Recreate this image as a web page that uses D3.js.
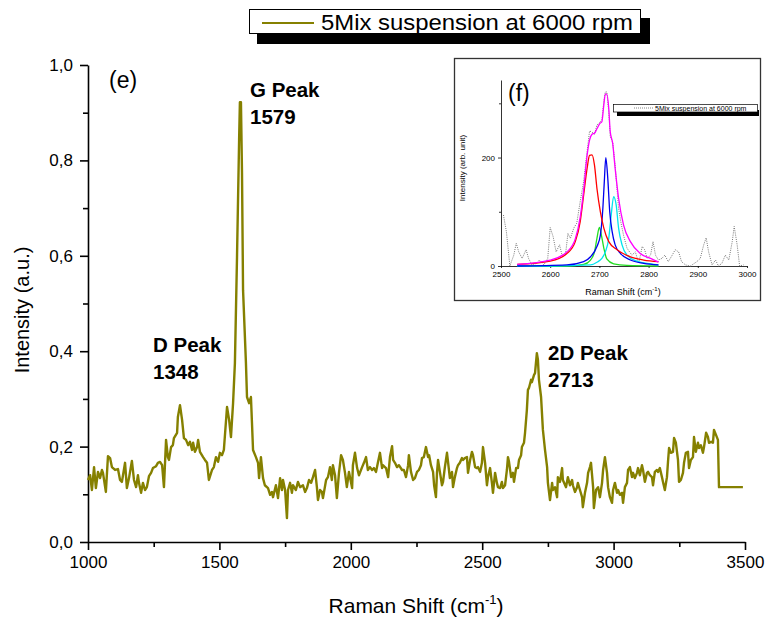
<!DOCTYPE html>
<html><head><meta charset="utf-8">
<script src="https://cdn.jsdelivr.net/npm/d3@7"></script>
<style>body{margin:0;background:#fff} svg{display:block} text{font-family:"Liberation Sans",Arial,sans-serif}</style>
</head><body>
<svg id="c" width="771" height="622"></svg>
<script>
// ---------- data ----------
const seriesName = "5Mix suspension at 6000 rpm";
const xTicks = [1000, 1500, 2000, 2500, 3000, 3500];
const xMinorTicks = [1250, 1750, 2250, 2750, 3250];
const yTicks = [0, 0.2, 0.4, 0.6, 0.8, 1.0];
const yMinorTicks = [0.1, 0.3, 0.5, 0.7, 0.9];
const peakLabels = [
  {name: "D Peak", pos: "1348"},
  {name: "G Peak", pos: "1579"},
  {name: "2D Peak", pos: "2713"}
];
// [Raman shift (cm-1), intensity (a.u.)]
const spectrum = [[1000,.130],[1008,.140],[1015,.109],[1023,.157],[1030,.113],[1038,.147],[1046,.134],[1053,.151],[1057,.145],[1068,.105],[1076,.180],[1084,.176],[1091,.157],[1103,.151],[1114,.153],[1122,.130],[1129,.126],[1141,.166],[1148,.113],[1156,.134],[1167,.170],[1175,.130],[1183,.115],[1190,.140],[1194,.124],[1202,.103],[1209,.124],[1217,.109],[1224,.115],[1232,.138],[1240,.145],[1247,.155],[1259,.159],[1266,.166],[1274,.168],[1282,.161],[1289,.115],[1297,.214],[1304,.178],[1308,.172],[1316,.199],[1323,.203],[1327,.218],[1339,.229],[1342,.262],[1350,.287],[1358,.256],[1365,.218],[1373,.214],[1381,.203],[1388,.210],[1396,.193],[1400,.208],[1407,.189],[1415,.199],[1419,.214],[1426,.189],[1438,.178],[1445,.172],[1453,.166],[1460,.130],[1472,.151],[1479,.157],[1487,.178],[1495,.168],[1502,.187],[1510,.182],[1517,.193],[1529,.283],[1537,.256],[1544,.220],[1552,.291],[1559,.375],[1567,.597],[1575,.843],[1578,.922],[1582,.922],[1586,.774],[1590,.528],[1601,.375],[1605,.304],[1613,.291],[1620,.304],[1624,.249],[1628,.193],[1639,.178],[1647,.166],[1651,.134],[1658,.178],[1666,.134],[1673,.119],[1685,.113],[1693,.099],[1700,.105],[1704,.094],[1715,.119],[1723,.092],[1731,.134],[1738,.109],[1742,.130],[1750,.109],[1757,.050],[1761,.109],[1769,.124],[1776,.103],[1780,.119],[1791,.109],[1799,.126],
[1807,.115],[1818,.119],[1826,.105],[1833,.113],[1841,.130],[1849,.124],[1856,.136],[1864,.151],[1871,.115],[1875,.088],[1883,.109],[1890,.105],[1894,.092],[1906,.130],[1913,.136],[1921,.157],[1928,.130],[1932,.161],[1940,.140],[1947,.092],[1955,.145],[1963,.182],[1970,.172],[1978,.145],[1985,.115],[1993,.147],[2005,.113],[2008,.161],[2016,.187],[2024,.155],[2031,.140],[2043,.157],[2050,.166],[2058,.178],[2065,.151],[2073,.157],[2081,.151],[2088,.155],[2096,.147],[2103,.166],[2111,.187],[2119,.155],[2122,.161],[2134,.155],[2142,.136],[2149,.178],[2157,.201],[2161,.172],[2168,.166],[2176,.157],[2183,.161],[2195,.151],[2202,.151],[2210,.136],[2218,.161],[2221,.182],[2229,.147],[2237,.130],[2244,.134],[2252,.147],[2259,.151],
[2267,.161],[2271,.176],[2278,.178],[2286,.199],[2294,.178],[2298,.182],[2305,.161],[2313,.147],[2317,.119],[2324,.094],[2328,.145],[2332,.172],[2339,.147],[2347,.119],[2351,.126],[2358,.157],[2366,.187],[2370,.168],[2377,.134],[2385,.147],[2389,.115],[2396,.136],[2404,.155],[2408,.161],[2415,.166],[2423,.176],[2427,.172],[2434,.176],[2442,.178],[2446,.145],[2454,.172],[2461,.189],[2465,.182],[2473,.157],[2480,.155],[2484,.157],[2492,.147],[2499,.166],[2503,.199],[2511,.166],[2518,.119],[2522,.136],[2530,.155],[2537,.124],[2541,.103],[2549,.145],[2556,.124],[2560,.115],[2568,.113],[2575,.126],[2579,.113],[2587,.119],[2594,.151],[2598,.178],[2602,.168],[2610,.136],[2617,.145],[2621,.126],[2629,.155],[2636,.155],[2640,.172],[2648,.182],[2651,.199],[2659,.208],[2663,.229],[2670,.277],[2674,.319],[2678,.323],[2686,.340],[2689,.335],[2697,.350],[2701,.354],[2708,.396],[2712,.382],[2716,.340],[2724,.304],[2731,.235],[2739,.193],[2747,.157],[2750,.124],[2758,.088],[2766,.124],[2769,.109],[2777,.115],[2785,.094],[2788,.136],[2796,.126],[2804,.155],[2807,.130],[2819,.115],[2826,.136],[2834,.119],[2842,.130],[2845,.119],[2853,.105],[2861,.115],[2864,.124],[2872,.109],[2880,.094],[2883,.073],[2891,.103],[2899,.124],[2903,.145],[2910,.157],[2914,.166],[2922,.115],[2925,.071],[2933,.109],[2941,.115],[2948,.094],[2956,.124],[2960,.151],[2967,.178],[2975,.145],[2979,.115],[2986,.094],[2994,.082],[2998,.109],[3005,.124],[3013,.103],[3017,.109],[3024,.099],[3032,.103],[3036,.082],[3043,.115],[3051,.124],[3055,.151],[3062,.157],[3070,.136],[3074,.145],[3081,.134],[3089,.145],[3093,.155],[3100,.140],[3108,.161],[3112,.151],[3119,.126],[3127,.145],[3131,.147],[3138,.140],[3146,.136],[3150,.119],[3157,.147],[3165,.151],[3169,.147],[3176,.155],[3184,.136],[3188,.126],[3195,.109],[3203,.136],[3207,.168],[3211,.197],[3218,.187],[3226,.189],[3230,.218],[3237,.208],[3245,.172],[3249,.126],[3256,.130],[3264,.145],[3268,.166],[3275,.187],[3283,.189],[3287,.155],[3294,.172],[3302,.178],[3306,.220],[3313,.189],[3321,.208],[3325,.197],[3332,.203],[3340,.187],[3344,.199],[3352,.229],[3359,.220],[3363,.208],[3371,.210],[3378,.208],[3382,.235],[3390,.224],[3397,.214],[3401,.115],[3492,.115]];

// inset (f): 2D band fit, [Raman shift, intensity (arb. unit)]
const insetXTicks = [2500, 2600, 2700, 2800, 2900, 3000];
const insetYTicks = [0, 200];
const insetYMinorTicks = [100, 300];
const insetRaw = [[2505,94],[2511,63],[2518,0],[2526,20],[2531,42],[2536,26],[2543,14],[2551,30],[2556,14],[2563,2],[2573,5],[2578,11],[2587,2],[2595,14],[2600,71],[2606,54],[2612,26],[2619,39],[2624,20],[2631,20],[2636,60],[2641,51],[2648,70],[2654,79],[2661,119],[2668,156],[2675,211],[2680,249],[2685,247],[2690,243],[2695,260],[2701,265],[2705,270],[2709,303],[2712,321],[2715,321],[2719,285],[2722,239],[2727,228],[2732,186],[2739,106],[2744,79],[2749,57],[2756,33],[2766,20],[2773,26],[2780,5],[2787,36],[2792,30],[2797,14],[2804,20],[2809,45],[2814,20],[2820,11],[2827,14],[2833,20],[2840,8],[2848,20],[2854,30],[2861,26],[2867,8],[2875,2],[2885,0],[2898,8],[2905,14],[2912,39],[2917,52],[2922,26],[2929,2],[2936,11],[2942,0],[2949,5],[2956,20],[2963,11],[2970,45],[2974,73],[2980,39],[2985,0],[2993,2]];
const fitSum = [[2533,3],[2600,11],[2634,26],[2651,50],[2661,90],[2668,140],[2675,204],[2680,232],[2685,243],[2690,245],[2695,253],[2701,263],[2705,266],[2709,297],[2712,317],[2715,317],[2719,291],[2722,248],[2727,226],[2732,180],[2739,125],[2749,76],[2763,45],[2783,23],[2804,14],[2820,7]];
const fitRed = [[2533,3],[2600,9],[2634,23],[2651,45],[2661,82],[2668,131],[2675,180],[2680,204],[2685,205],[2690,186],[2695,143],[2702,100],[2709,70],[2719,45],[2736,30],[2763,17],[2790,11],[2820,8]];
const fitBlue = [[2533,0],[2634,2],[2668,8],[2682,17],[2695,36],[2702,57],[2707,106],[2710,156],[2713,200],[2717,162],[2721,100],[2726,63],[2732,39],[2743,23],[2763,11],[2790,5],[2820,2]];
const fitCyan = [[2533,0],[2600,0],[2682,2],[2695,7],[2705,14],[2712,26],[2719,51],[2724,94],[2729,128],[2734,113],[2739,70],[2746,39],[2756,20],[2776,9],[2804,4],[2820,2]];
const fitGreen = [[2533,0],[2634,0],[2668,3],[2682,11],[2690,26],[2695,51],[2700,71],[2704,57],[2709,33],[2715,13],[2729,4],[2756,1],[2820,0]];

// ---------- drawing ----------
const svg = d3.select("#c");
const olive = "#858000";
const x = d3.scaleLinear().domain([1000, 3500]).range([88, 745]);
const y = d3.scaleLinear().domain([0, 1]).range([542, 65]);
const fmtY = d => d3.format(".1f")(d).replace(".", ",");

// axes
const gx = svg.append("g").attr("transform", "translate(0,542)");
gx.call(d3.axisBottom(x).tickValues(xTicks).tickSize(8).tickSizeOuter(0).tickPadding(6).tickFormat(d3.format("d")));
gx.append("g").call(d3.axisBottom(x).tickValues(xMinorTicks).tickSize(5).tickFormat("")).select(".domain").remove();
const gy = svg.append("g").attr("transform", "translate(88,0)");
gy.call(d3.axisLeft(y).tickValues(yTicks).tickSize(8).tickSizeOuter(0).tickPadding(7).tickFormat(fmtY));
gy.append("g").call(d3.axisLeft(y).tickValues(yMinorTicks).tickSize(5).tickFormat("")).select(".domain").remove();
svg.selectAll(".domain, .tick line").attr("stroke", "#000").attr("stroke-width", 1.6);
svg.selectAll(".tick text").attr("font-size", 17).attr("fill", "#000")
  .attr("font-family", '"Liberation Sans",Arial,sans-serif');

// axis titles
svg.append("text").attr("transform", "translate(29,310) rotate(-90)").attr("text-anchor", "middle")
  .attr("font-size", 20).text("Intensity (a.u.)");
const xt = svg.append("text").attr("x", 416).attr("y", 613).attr("text-anchor", "middle").attr("font-size", 21);
xt.append("tspan").text("Raman Shift (cm");
xt.append("tspan").attr("font-size", 13).attr("dy", -9).text("-1");
xt.append("tspan").attr("dy", 9).text(")");

// spectrum line
const line = d3.line().x(d => x(d[0])).y(d => y(d[1]));
svg.append("path").datum(spectrum).attr("d", line).attr("fill", "none")
  .attr("stroke", olive).attr("stroke-width", 2.4).attr("stroke-linejoin", "round");

// annotations
svg.append("text").attr("x", 109).attr("y", 88).attr("font-size", 23).text("(e)");
const pk = svg.append("g").attr("font-weight", "bold").attr("font-size", 20.5);
const pkPos = {"D Peak": [153, 352], "G Peak": [250, 97], "2D Peak": [548, 360]};
peakLabels.forEach(p => {
  const [px, py] = pkPos[p.name];
  pk.append("text").attr("x", px).attr("y", py).text(p.name);
  pk.append("text").attr("x", px).attr("y", py + 27).text(p.pos);
});

// legend
svg.append("rect").attr("x", 257).attr("y", 18).attr("width", 393).attr("height", 26).attr("fill", "#000");
svg.append("rect").attr("x", 249.5).attr("y", 9.5).attr("width", 391).attr("height", 24).attr("fill", "#fff").attr("stroke", "#000").attr("stroke-width", 1);
svg.append("line").attr("x1", 262).attr("x2", 314).attr("y1", 23).attr("y2", 23).attr("stroke", olive).attr("stroke-width", 2);
svg.append("text").attr("x", 321).attr("y", 30).attr("font-size", 22).attr("textLength", 312)
  .attr("lengthAdjust", "spacingAndGlyphs").text(seriesName);

// ---------- inset ----------
const ins = svg.append("g");
ins.append("rect").attr("x", 454.5).attr("y", 58.5).attr("width", 306).attr("height", 242)
  .attr("fill", "#fff").attr("stroke", "#333").attr("stroke-width", 1.3);
const ix = d3.scaleLinear().domain([2500, 3000]).range([501, 747]);
const iy = d3.scaleLinear().domain([0, 343]).range([266, 80]);
const igx = ins.append("g").attr("transform", "translate(0,266)")
  .call(d3.axisBottom(ix).tickValues(insetXTicks).tickSize(2).tickSizeOuter(0).tickPadding(3).tickFormat(d3.format("d")));
const igy = ins.append("g").attr("transform", "translate(501,0)")
  .call(d3.axisLeft(iy).tickValues(insetYTicks).tickSize(3).tickSizeOuter(0).tickPadding(3));
igy.append("g").call(d3.axisLeft(iy).tickValues(insetYMinorTicks).tickSize(2).tickFormat("")).select(".domain").remove();
ins.selectAll(".domain, .tick line").attr("stroke", "#000").attr("stroke-width", 0.8);
ins.selectAll(".tick text").attr("font-size", 8).attr("fill", "#000")
  .attr("font-family", '"Liberation Sans",Arial,sans-serif');
ins.append("text").attr("transform", "translate(465,168) rotate(-90)").attr("text-anchor", "middle")
  .attr("font-size", 8).text("Intensity (arb. unit)");
const ixt = ins.append("text").attr("x", 623).attr("y", 295).attr("text-anchor", "middle").attr("font-size", 9);
ixt.append("tspan").text("Raman Shift (cm");
ixt.append("tspan").attr("font-size", 6).attr("dy", -4).text("-1");
ixt.append("tspan").attr("dy", 4).text(")");
ins.append("text").attr("x", 508).attr("y", 101).attr("font-size", 23).text("(f)");

const iline = d3.line().x(d => ix(d[0])).y(d => iy(d[1]));
const sline = d3.line().x(d => ix(d[0])).y(d => iy(d[1])).curve(d3.curveMonotoneX);
ins.append("path").datum(insetRaw).attr("d", iline).attr("fill", "none")
  .attr("stroke", "#777").attr("stroke-width", 1).attr("stroke-dasharray", "1,1.2");
[[fitGreen, "#22dd22"], [fitCyan, "#00e5ee"], [fitBlue, "#0000ee"], [fitRed, "#ff0000"], [fitSum, "#ff00ff"]].forEach(([d, c]) => {
  ins.append("path").datum(d).attr("d", sline).attr("fill", "none").attr("stroke", c).attr("stroke-width", 1.3);
});

// inset legend
ins.append("rect").attr("x", 617).attr("y", 110).attr("width", 142).attr("height", 6).attr("fill", "#000");
ins.append("rect").attr("x", 613.5).attr("y", 104.5).attr("width", 144).attr("height", 7.5).attr("fill", "#fff").attr("stroke", "#000").attr("stroke-width", 0.7);
ins.append("line").attr("x1", 634).attr("x2", 653).attr("y1", 108).attr("y2", 108).attr("stroke", "#777").attr("stroke-width", 0.9).attr("stroke-dasharray", "1,1");
ins.append("text").attr("x", 655).attr("y", 110.5).attr("font-size", 7).text(seriesName);
</script>
</body></html>
